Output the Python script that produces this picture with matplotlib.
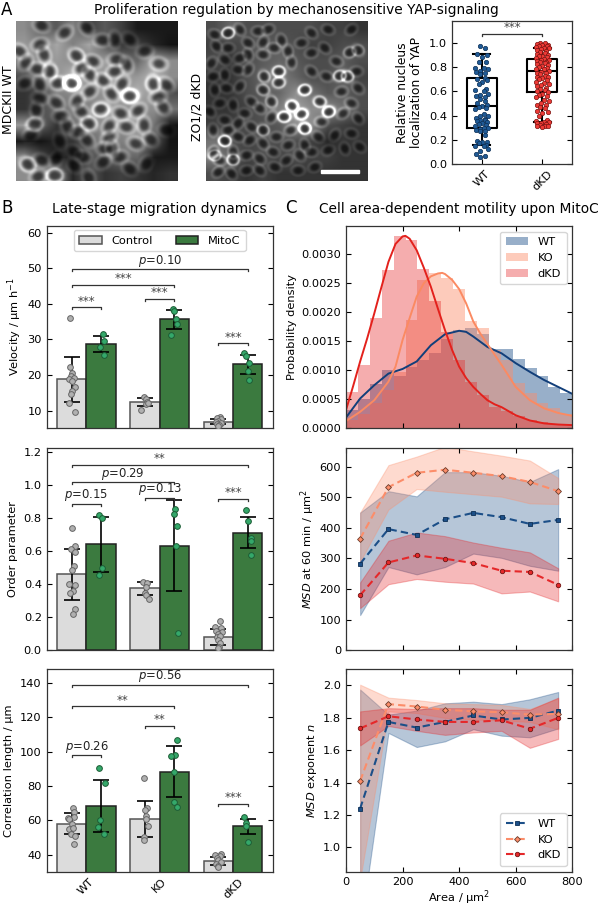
import numpy as np
import matplotlib
matplotlib.use('Agg')
import matplotlib.pyplot as plt
from matplotlib.patches import Rectangle

W, H = 600, 908
plt.rcParams.update({'font.family': 'DejaVu Sans', 'font.size': 8.2, 'axes.linewidth': 0.9,
                     'axes.edgecolor': '#333333', 'xtick.direction': 'in', 'ytick.direction': 'in',
                     'xtick.top': True, 'ytick.right': True, 'xtick.major.size': 3.5, 'ytick.major.size': 3.5,
                     'mathtext.default': 'regular'})

# ---------- micrograph sketches (hand-read brightness + cell positions) ----------
grid_a = [[.55,.40,.35,.50,.25,.35,.25,.10,.10,.10],
          [.60,.50,.65,.50,.65,.35,.20,.25,.15,.08],
          [.50,.55,.60,.55,.50,.60,.45,.40,.65,.55],
          [.30,.45,.55,.75,.55,.60,.55,.60,.70,.55],
          [.20,.25,.50,.55,.55,.55,.60,.70,.55,.30],
          [.20,.30,.40,.45,.50,.60,.55,.55,.55,.45],
          [.60,.40,.20,.45,.50,.55,.55,.60,.45,.08],
          [.10,.08,.15,.20,.40,.50,.50,.55,.35,.08],
          [.55,.30,.10,.15,.30,.35,.40,.40,.10,.10],
          [.55,.50,.55,.15,.35,.20,.25,.20,.15,.20]]
nuclei_a = [(80,18),(150,40),(215,25),(262,62),(75,75),(88,105),(15,95),(33,128),(68,148),(105,155),
            (130,190),(185,108),(235,125),(200,145),(225,165),(305,120),(300,155),(335,135),(265,182),
            (322,192),(432,132),(415,192),(430,232),(455,195),(170,190),(225,215),(290,222),(345,228),
            (30,190),(75,193),(125,248),(187,243),(75,235),(65,270),(258,266),(200,275),(318,280),
            (370,272),(445,262),(138,288),(60,312),(158,318),(222,310),(283,318),(335,320),(388,315),
            (190,335),(408,358),(363,370),(283,352),(217,360),(270,385),(48,345),(135,362),(178,395),
            (125,415),(205,410),(292,385),(315,410),(38,432),(80,420),(265,425),(178,435),(120,465),
            (70,468),(222,472),(345,445),(395,430),(455,330),(300,60),(390,95),(345,60)]
rims_a = [(170,190,.75),(345,228,.32),(258,270,.24),(120,465,.2),(222,310,.16),(185,108,.1),(105,155,.12),
          (40,432,.12),(60,312,.12),(415,192,.1),(130,190,.08)]
grid_b = [[.30,.40,.30,.30,.30,.30,.30,.25,.25,.20],
          [.25,.25,.30,.35,.35,.30,.25,.25,.30,.30],
          [.30,.20,.30,.35,.40,.35,.30,.30,.35,.30],
          [.20,.20,.30,.40,.50,.40,.30,.30,.40,.25],
          [.20,.20,.30,.35,.40,.55,.45,.35,.35,.30],
          [.20,.20,.25,.35,.50,.65,.55,.55,.45,.30],
          [.25,.25,.30,.30,.35,.55,.55,.30,.25,.20],
          [.45,.30,.25,.30,.30,.30,.25,.15,.20,.20],
          [.50,.40,.25,.30,.25,.30,.25,.25,.20,.20],
          [.30,.25,.20,.25,.20,.20,.20,.20,.20,.20]]
nuclei_b = [(30,45),(70,40),(105,30),(160,35),(190,30),(230,62),(130,70),(175,68),(208,85),(250,95),
            (290,70),(320,40),(370,30),(440,30),(35,80),(70,85),(105,115),(130,105),(60,120),(20,130),
            (175,105),(260,128),(320,100),(360,85),(395,125),(435,98),(460,92),(222,155),(222,188),
            (178,170),(175,210),(130,150),(100,150),(60,165),(25,170),(320,155),(365,170),(405,168),
            (428,170),(455,155),(300,210),(200,245),(140,245),(105,200),(65,205),(30,210),(410,215),
            (460,205),(345,245),(372,275),(262,258),(238,290),(290,282),(300,325),(165,265),(200,292),
            (120,280),(85,255),(45,250),(15,275),(440,250),(415,280),(460,295),(350,305),(258,330),
            (175,330),(140,320),(100,310),(60,300),(25,330),(70,330),(60,362),(100,350),(135,360),
            (175,370),(215,350),(250,375),(300,375),(340,350),(390,345),(440,340),(85,395),(125,405),
            (165,415),(205,395),(245,420),(285,405),(320,395),(370,390),(420,385),(465,380),(25,395),
            (45,420),(85,418),(125,450),(165,450),(210,440),(40,455),(80,460),(280,450),(330,440)]
rims_b = [(70,40,.35),(222,155,.35),(222,188,.22),(300,210,.4),(262,258,.42),(238,290,.4),(290,282,.4),
          (300,325,.5),(345,245,.25),(372,275,.42),(178,170,.16),(175,210,.15),(200,245,.12),(60,362,.5),
          (85,418,.3),(175,330,.22),(405,168,.3),(428,170,.3),(435,98,.12),(460,92,.12),(30,405,.28)]
angles = [20, -35, 50, 0, -20, 70, 35, -55, 10, 85, -10, 40]


def micrograph(grid, nuclei, rims, semi, ring_level):
    ny, nx = 160, 162
    xs, ys = np.meshgrid(np.arange(nx) * 3 + 5, np.arange(ny) * 3 + 3)
    g = np.array(grid)
    cx = (np.arange(g.shape[1]) + .5) * 48.5 + 5
    cy = (np.arange(g.shape[0]) + .5) * 48 + 3
    tmp = np.array([np.interp(xs[0], cx, r) for r in g])
    img = np.array([np.interp(ys[:, 0], cy, tmp[:, j]) for j in range(nx)]).T
    lines = np.zeros_like(img)
    dark = np.ones_like(img)
    for i, (x0, y0) in enumerate(nuclei):
        a = np.deg2rad(angles[i % len(angles)])
        dx, dy = xs - x0, ys - y0
        u = (dx * np.cos(a) + dy * np.sin(a)) / semi[0]
        v = (-dx * np.sin(a) + dy * np.cos(a)) / semi[1]
        r = np.sqrt(u * u + v * v)
        dark *= 1 - .55 * np.exp(-r ** 4)
        lines += ring_level * np.exp(-((r - 1.6) / .42) ** 2)
    out = img * dark + np.minimum(lines, .9) * img
    for x0, y0, level in rims:
        dx, dy = xs - x0, ys - y0
        r = np.sqrt((dx / (semi[0] * 1.15)) ** 2 + (dy / (semi[1] * 1.3)) ** 2)
        out += level * np.exp(-((r - 1.2) / .3) ** 2)
    return np.clip(out, 0, 1)


def px_axes(l, t, r, b, **kw):
    return fig.add_axes([l / W, 1 - b / H, (r - l) / W, (b - t) / H], **kw)


def ftext(x, y, s, **kw):
    fig.text(x / W, 1 - y / H, s, ha=kw.pop('ha', 'center'), va=kw.pop('va', 'center'), **kw)


def ylabel_at(ax, text, xpx, size=8.2):
    l = ax.get_position().x0 * W
    w = ax.get_position().width * W
    ax.set_ylabel(text, fontsize=size, va='center', linespacing=1.1)
    ax.yaxis.set_label_coords((xpx - l) / w, .5)


fig = plt.figure(figsize=(6, 9.08), dpi=100)

for l, r, data in [(15.7, 177.3, micrograph(grid_a, nuclei_a, rims_a, (17, 13), .24)),
                   (205.7, 367.3, micrograph(grid_b, nuclei_b, rims_b, (13, 10), .3))]:
    im_ax = px_axes(l, 21, r, 181)
    im_ax.imshow(data, cmap='gray', vmin=0, vmax=1, aspect='auto', interpolation='bilinear')
    im_ax.axis('off')
    if l > 100:
        im_ax.add_patch(Rectangle((115, 148), 38, 3.4, color='white'))

ftext(9, 100, 'MDCKII WT', rotation=90, fontsize=9)
ftext(197, 107, 'ZO1/2 dKD', rotation=90, fontsize=9)
ftext(296, 10, 'Proliferation regulation by mechanosensitive YAP-signaling', fontsize=9.95)
ftext(159, 209, 'Late-stage migration dynamics', fontsize=9.95)
ftext(459, 209, 'Cell area-dependent motility upon MitoC', fontsize=9.95)
ftext(7, 10, 'A', fontsize=12)
ftext(7, 208, 'B', fontsize=12)
ftext(291, 208, 'C', fontsize=12)

# ---------- panel A box plot ----------
box_labels = ['WT', 'dKD']
box_q1 = [.297, .597]
box_med = [.477, .765]
box_q3 = [.708, .867]
box_lo = [.155, .345]
box_hi = [.908, .96]
yap_wt = [.975,.96,.905,.90,.88,.84,.84,.795,.79,.78,.77,.76,.75,.74,.71,.70,.69,.68,.66,.62,.61,.60,.58,.57,
          .56,.55,.54,.52,.50,.49,.48,.47,.46,.45,.41,.40,.395,.38,.37,.365,.36,.355,.35,.34,.33,.32,.31,.30,
          .295,.29,.28,.275,.27,.24,.19,.185,.18,.175,.16,.15,.15,.12,.11,.08,.07,.06]
yap_dkd = [1.0,.995,.99,.985,.98,.975,.97,.965,.96,.955,.95,.94,.93,.925,.92,.91,.90,.895,.89,.88,.875,.87,.86,
           .855,.85,.845,.84,.83,.825,.82,.81,.80,.79,.785,.78,.77,.76,.755,.75,.74,.73,.72,.715,.71,.70,.69,.68,
           .67,.66,.65,.64,.63,.62,.61,.60,.595,.58,.57,.56,.55,.53,.52,.50,.49,.485,.47,.46,.44,.43,.42,.40,.36,
           .355,.35,.345,.34,.335,.33,.32,.315,.31,.31,.305]
strip_offsets = [-.03, .05, -.08, .09, .0, -.05, .07, -.11, .03, .11, -.02, -.09, .06]

ax = px_axes(452, 21, 572, 164)
stats = [dict(med=m, q1=a, q3=b, whislo=lo, whishi=hi, fliers=[]) for m, a, b, lo, hi in
         zip(box_med, box_q1, box_q3, box_lo, box_hi)]
lw = dict(color='black', linewidth=1.5)
ax.bxp(stats, positions=[0, 1], widths=.5, capwidths=.28, showfliers=False, boxprops=lw, medianprops=lw,
       whiskerprops=lw, capprops=lw, zorder=2)
for i, (vals, fc, ec) in enumerate([(yap_wt, '#1f5a96', '#0d2f55'), (yap_dkd, '#ee3a36', '#7a1512')]):
    dx = [strip_offsets[k % len(strip_offsets)] for k in range(len(vals))]
    ax.scatter(np.array(dx) + i, vals, s=10, c=fc, edgecolors=ec, linewidths=.5, zorder=3)
ax.plot([0, 0, 1, 1], [1.055, 1.072, 1.072, 1.055], color='#333333', lw=.9)
ax.text(.5, 1.125, '***', ha='center', va='center', fontsize=8.6, color='#444444')
ax.set_xlim(-.49, 1.49)
ax.set_ylim(0, 1.18)
ax.set_yticks(np.arange(0, 1.01, .2))
ax.set_xticks([0, 1])
ax.set_xticklabels(box_labels, rotation=45)
ax.tick_params(top=False)
ylabel_at(ax, 'Relative nucleus\nlocalization of YAP', 410, 8.8)

# ---------- panel B ----------
groups = ['WT', 'KO', 'dKD']
vel_ctrl = [18.8, 12.4, 6.9]
vel_ctrl_err = [(12.4, 25.1), (11.2, 13.5), (6.2, 7.6)]
vel_mito = [28.7, 35.7, 23.0]
vel_mito_err = [(26.4, 30.9), (33.0, 38.4), (20.2, 25.7)]
vel_pts = [[(-.02,36.1),(-.02,22.3),(.01,20.6),(-.01,19.7),(.03,19.3),(-.03,18.9),(.01,18.4),(.04,16.6),
            (.0,15.5),(-.01,14.6),(-.03,12.2),(.04,9.5)],
           [(.03,31.6),(.04,29.6),(-.01,27.8),(.04,25.6)],
           [(-.01,13.9),(.02,13.2),(.03,12.5),(.01,11.9),(.04,12.2),(-.05,10.3)],
           [(-.02,38.6),(-.0,38.1),(.02,35.7),(.04,34.4),(-.05,31.2)],
           [(.02,8.3),(-.02,7.9),(.03,7.5),(.0,7.2),(-.03,6.9),(.04,6.5),(-.02,6.2),(.01,6.0),(-.01,5.7)],
           [(-.05,26.1),(-.02,25.4),(.02,23.4),(.0,21.0),(.02,18.7)]]
vel_brackets = [(-.2, .2, 39.0, '***'), (-.2, 1.2, 45.3, '***'), (-.2, 2.2, 49.8, 'p=0.10'),
                (.8, 1.2, 41.5, '***'), (1.8, 2.2, 28.9, '***')]

ord_ctrl = [.463, .375, .083]
ord_ctrl_err = [(.306, .614), (.336, .411), (.032, .131)]
ord_mito = [.642, .63, .711]
ord_mito_err = [(.475, .808), (.356, .906), (.616, .806)]
ord_pts = [[(.0,.737),(.05,.63),(-.01,.612),(.05,.592),(.03,.507),(.0,.483),(-.03,.403),(.04,.395),(.02,.356),
            (-.02,.348),(.04,.25),(.02,.218)],
           [(-.03,.816),(.01,.80),(.01,.497),(-.03,.457)],
           [(-.03,.413),(.03,.407),(.01,.38),(-.0,.344),(.01,.334),(.05,.308)],
           [(.01,.852),(.0,.824),(.03,.749),(.02,.628),(.05,.103)],
           [(.02,.175),(-.05,.143),(.03,.137),(-.03,.115),(.05,.111),(.0,.099),(-.02,.079),(.02,.087),(-.01,.062),
            (.02,.042),(.01,.022),(.0,.012)],
           [(-.03,.846),(-.0,.783),(.04,.681),(.04,.661),(.04,.578)]]
ord_brackets = [(-.2, 2.2, 1.122, '**'), (-.2, 1.2, 1.015, 'p=0.29'), (-.2, .2, .886, 'p=0.15'),
                (.8, 1.2, .922, 'p=0.13'), (1.8, 2.2, .916, '***')]

cor_ctrl = [58.1, 60.9, 36.3]
cor_ctrl_err = [(52.1, 64.0), (50.3, 71.0), (33.8, 38.4)]
cor_mito = [68.1, 88.3, 56.4]
cor_mito_err = [(52.9, 83.3), (73.7, 103.0), (51.7, 60.9)]
cor_pts = [[(.02,67.3),(.03,65),(.03,61.8),(-.05,61.2),(-.03,60.8),(.0,57.9),(-.03,55),(.02,55.4),(-.01,51.9),
            (.04,51.1),(.03,46.4)],
           [(-.03,90.3),(.05,81.7),(-.01,60.3),(-.04,55.8),(.04,52.1)],
           [(-.02,84.8),(.03,67.1),(.0,65.7),(.01,62.6),(.01,61),(.04,56.4),(-.02,50.3),(-.01,48.6)],
           [(.03,107),(.01,98.3),(-.04,97.3),(.0,88.3),(.0,70.8),(.03,67.9)],
           [(.03,40.3),(-.04,39.8),(.02,39),(-.02,38),(.0,36.8),(.03,35.5),(-.03,34.5),(.0,33.5),(-.01,32.8)],
           [(-.05,61.6),(-.02,58.3),(-.03,56.6),(.0,47.6)]]
cor_brackets = [(-.2, 2.2, 139.0, 'p=0.56'), (-.2, 1.2, 126.4, '**'), (.8, 1.2, 115.0, '**'),
                (-.2, .2, 97.9, 'p=0.26'), (1.8, 2.2, 69.4, '***')]

c_ctrl, c_mito = '#dcdcdc', '#3b7a3f'


def bars(ax, ctrl, ctrl_err, mito, mito_err, pts, brackets, ylim, dh):
    x = np.arange(3)
    ax.bar(x - .2, ctrl, .4, color=c_ctrl, edgecolor='#555555', linewidth=1.1, label='Control', zorder=2)
    ax.bar(x + .2, mito, .4, color=c_mito, edgecolor='#222222', linewidth=1.1, label='MitoC', zorder=2)
    for xs, vals, errs in [(x - .2, ctrl, ctrl_err), (x + .2, mito, mito_err)]:
        lo = [v - e[0] for v, e in zip(vals, errs)]
        hi = [e[1] - v for v, e in zip(vals, errs)]
        ax.errorbar(xs, vals, yerr=[lo, hi], fmt='none', ecolor='black', elinewidth=1.2, capsize=5.5,
                    capthick=1.2, zorder=3)
    centers = [-.2, .2, .8, 1.2, 1.8, 2.2]
    for i, (c, p) in enumerate(zip(centers, pts)):
        px_ = [c + q[0] for q in p]
        py_ = [q[1] for q in p]
        if i % 2 == 0:
            ax.scatter(px_, py_, s=17, c='#b0b0b0', edgecolors='#666666', linewidths=.7, zorder=4)
        else:
            ax.scatter(px_, py_, s=17, c='#34a86a', edgecolors='#1d5c35', linewidths=.7, zorder=4)
    for x0, x1, y, label in brackets:
        ax.plot([x0, x0, x1, x1], [y - dh, y, y, y - dh], color='#333333', lw=.9, zorder=5)
        if label.startswith('p'):
            ax.annotate(r'$\mathit{p}$' + label[1:], ((x0 + x1) / 2, y), xytext=(0, 6), textcoords='offset points',
                        ha='center', va='center', fontsize=8.4, color='#222222')
        else:
            ax.annotate(label, ((x0 + x1) / 2, y), xytext=(0, 4.5), textcoords='offset points',
                        ha='center', va='center', fontsize=8.6, color='#444444')
    ax.set_xlim(-.54, 2.54)
    ax.set_ylim(*ylim)
    ax.set_xticks(x)
    ax.set_xticklabels([])
    ax.tick_params(axis='x', top=False, bottom=False)


ax = px_axes(46.7, 226, 272.7, 428)
bars(ax, vel_ctrl, vel_ctrl_err, vel_mito, vel_mito_err, vel_pts, vel_brackets, (5.1, 61.9), .55)
ax.set_yticks(np.arange(10, 61, 10))
ylabel_at(ax, 'Velocity / µm h$^{-1}$', 15)
ax.legend(loc='upper center', ncol=2, fontsize=8.2, handlelength=2.0, columnspacing=2.0, borderpad=.5,
          bbox_to_anchor=(.5, 1.008), handletextpad=.8)

ax = px_axes(46.7, 448.3, 272.7, 650.3)
bars(ax, ord_ctrl, ord_ctrl_err, ord_mito, ord_mito_err, ord_pts, ord_brackets, (0, 1.22), .012)
ax.set_yticks(np.arange(0, 1.21, .2))
ylabel_at(ax, 'Order parameter', 13)

ax = px_axes(46.7, 669.3, 272.7, 871.7)
bars(ax, cor_ctrl, cor_ctrl_err, cor_mito, cor_mito_err, cor_pts, cor_brackets, (30, 148), 1.2)
ax.set_yticks(np.arange(40, 141, 20))
ax.set_xticklabels(groups, rotation=45)
ylabel_at(ax, 'Correlation length / µm', 9)

# ---------- panel C ----------
c_wt, c_ko, c_dkd = '#1c4f88', '#fc8d6a', '#e5282a'
bin_edges = np.linspace(0, 800, 20)
hist_dkd = [.00062,.00109,.0019,.00273,.00332,.00324,.00275,.0022,.00166,.00117,.0008,.00057,.00036,.00029,.0002,
            .00014,.0001,.00007,.00005]
hist_ko = [.00014,.00025,.00043,.00066,.00097,.00187,.00256,.00268,.0026,.0024,.00185,.00172,.00135,.00117,.00078,
           .0006,.00043,.00034,.00024]
hist_wt = [.00031,.0005,.00076,.001,.00089,.00106,.00117,.0013,.00153,.00169,.00173,.00163,.00136,.00136,.0012,
           .00103,.00089,.00071,.0006]
kde_wt_x = [0,50,100,150,200,250,300,350,400,425,450,500,550,600,650,700,750,800]
kde_wt = [.00018,.00051,.00074,.00094,.00102,.00115,.00143,.00162,.00168,.00166,.00158,.0014,.00129,.00112,.00097,
          .00083,.00071,.00059]
kde_ko_x = [0,50,100,150,175,200,225,250,275,300,325,340,350,375,400,425,450,475,500,550,600,650,700,750,800]
kde_ko = [.00012,.00028,.00048,.0008,.00106,.00152,.0019,.00227,.0025,.00262,.00267,.00268,.00266,.00256,.0024,
          .00215,.00184,.00163,.00145,.00109,.00071,.00048,.00034,.00026,.00021]
kde_dkd_x = [0,25,50,75,100,125,150,175,200,210,225,250,275,300,325,350,375,400,425,450,475,500,525,550,575,600,650,
             700,750,800]
kde_dkd = [.00031,.00072,.00115,.00155,.00198,.00243,.00287,.00318,.00331,.00332,.00327,.00307,.00277,.00244,.00206,
           .00169,.00135,.00106,.00086,.00071,.00059,.00048,.00041,.00036,.00029,.00022,.00013,.00008,.00006,.00005]

ax = px_axes(346, 226, 572.3, 428)
ax.stairs(hist_wt, bin_edges, fill=True, color=c_wt, alpha=.45, linewidth=0, label='WT')
ax.stairs(hist_ko, bin_edges, fill=True, color=c_ko, alpha=.45, linewidth=0, label='KO')
ax.stairs(hist_dkd, bin_edges, fill=True, color=c_dkd, alpha=.38, linewidth=0, label='dKD')
ax.plot(kde_wt_x, kde_wt, color='#123f7a', lw=1.4)
ax.plot(kde_ko_x, kde_ko, color='#fb8a62', lw=1.4)
ax.plot(kde_dkd_x, kde_dkd, color='#e3211c', lw=1.4)
ax.set_xlim(0, 800)
ax.set_ylim(0, .00349)
ax.set_xticks([200, 400, 600])
ax.set_xticklabels([])
ax.set_yticks(np.arange(0, .0031, .0005))
ax.set_yticklabels(['%.4f' % v for v in np.arange(0, .0031, .0005)])
ylabel_at(ax, 'Probability density', 292)
ax.legend(loc='upper right', fontsize=8.2, handlelength=2.0, handletextpad=.8, borderpad=.5)

area = [50, 150, 250, 350, 450, 550, 650, 750]
msd_wt = [283, 396, 377, 428, 449, 435, 413, 426]
msd_wt_hi = [450, 520, 503, 582, 582, 570, 550, 592]
msd_wt_lo = [115, 272, 248, 272, 316, 302, 276, 260]
msd_ko = [365, 533, 580, 590, 580, 569, 550, 520]
msd_ko_hi = [450, 605, 633, 665, 650, 636, 620, 563]
msd_ko_lo = [290, 460, 527, 518, 510, 502, 480, 478]
msd_dkd = [180, 287, 310, 299, 285, 260, 256, 214]
msd_dkd_hi = [222, 358, 385, 373, 352, 335, 320, 268]
msd_dkd_lo = [138, 216, 233, 224, 218, 186, 192, 160]

n_wt = [1.24, 1.775, 1.74, 1.775, 1.815, 1.79, 1.80, 1.845]
n_wt_hi = [1.975, 1.82, 1.845, 1.89, 1.90, 1.885, 1.915, 1.96]
n_wt_lo = [.48, 1.707, 1.62, 1.655, 1.73, 1.69, 1.68, 1.735]
n_ko = [1.41, 1.885, 1.87, 1.85, 1.84, 1.835, 1.82, 1.825]
n_ko_hi = [2.005, 1.925, 1.91, 1.89, 1.885, 1.88, 1.855, 1.92]
n_ko_lo = [.8, 1.84, 1.83, 1.80, 1.79, 1.785, 1.775, 1.73]
n_dkd = [1.735, 1.81, 1.79, 1.775, 1.775, 1.785, 1.733, 1.80]
n_dkd_hi = [1.84, 1.86, 1.855, 1.86, 1.86, 1.85, 1.85, 1.925]
n_dkd_lo = [1.63, 1.75, 1.72, 1.695, 1.71, 1.72, 1.615, 1.67]


def lines(ax, series):
    for (y, hi, lo, c, ec, m, ms, lab) in series:
        ax.fill_between(area, lo, hi, color=c, alpha=.32, linewidth=.8)
    for (y, hi, lo, c, ec, m, ms, lab) in series:
        ax.plot(area, y, ls=(0, (3.5, 2)), lw=1.5, color=c, marker=m, ms=ms, mfc=c, mec=ec, mew=.6, label=lab)
    ax.set_xlim(0, 800)
    ax.set_xticks([0, 200, 400, 600, 800])


ax = px_axes(346, 448.3, 572.3, 650.3)
lines(ax, [(msd_wt, msd_wt_hi, msd_wt_lo, c_wt, '#0d2f55', 's', 3.2, 'WT'),
           (msd_ko, msd_ko_hi, msd_ko_lo, c_ko, '#6b3b2a', 'D', 3.0, 'KO'),
           (msd_dkd, msd_dkd_hi, msd_dkd_lo, c_dkd, '#6f1412', 'o', 3.2, 'dKD')])
ax.set_xticklabels([])
ax.set_ylim(0, 660)
ax.set_yticks(np.arange(0, 601, 100))
ylabel_at(ax, r'$\mathit{MSD}$ at 60 min / µm$^2$', 308)

ax = px_axes(346, 669.3, 572.3, 871.7)
lines(ax, [(n_wt, n_wt_hi, n_wt_lo, c_wt, '#0d2f55', 's', 3.2, 'WT'),
           (n_ko, n_ko_hi, n_ko_lo, c_ko, '#6b3b2a', 'D', 3.0, 'KO'),
           (n_dkd, n_dkd_hi, n_dkd_lo, c_dkd, '#6f1412', 'o', 3.2, 'dKD')])
ax.set_ylim(.85, 2.1)
ax.set_yticks(np.arange(1.0, 2.01, .2))
ax.set_xlabel('Area / µm$^2$', labelpad=1.5, fontsize=8.2)
ylabel_at(ax, r'$\mathit{MSD}$ exponent $\mathit{n}$', 312)
ax.legend(loc='lower right', fontsize=8.2, handlelength=2.0, handletextpad=.8, borderpad=.5)

fig.savefig('out.png', dpi=100)
